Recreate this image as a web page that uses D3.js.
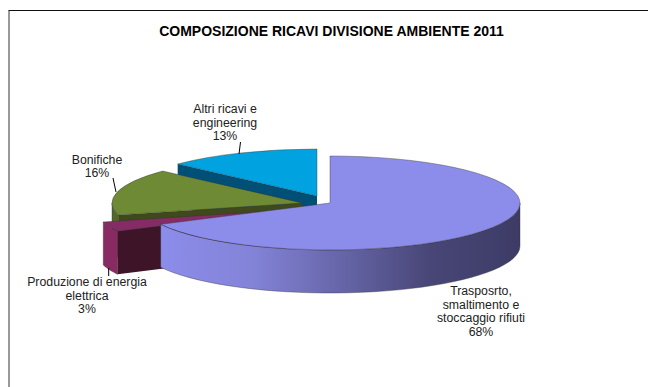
<!DOCTYPE html>
<html>
<head>
<meta charset="utf-8">
<script src="https://cdn.jsdelivr.net/npm/d3@7"></script>
<style>
  html, body { margin: 0; padding: 0; background: #fff; }
  svg { display: block; }
  text { font-family: "Liberation Sans", Arial, sans-serif; fill: #222; }
</style>
</head>
<body>
<svg id="chart" width="648" height="387"></svg>
<script>
const title = "COMPOSIZIONE RICAVI DIVISIONE AMBIENTE 2011";
const categories = ["Trasposrto, smaltimento e stoccaggio rifiuti", "Produzione di energia elettrica", "Bonifiche", "Altri ricavi e engineering"];
const shares = [67.5, 3.4, 16, 13.1];
const labelLines = [
  ["Trasposrto,", "smaltimento e", "stoccaggio rifiuti", "68%"],
  ["Produzione di energia", "elettrica", "3%"],
  ["Bonifiche", "16%"],
  ["Altri ricavi e", "engineering", "13%"]
];

// layout, one entry per slice
const apex = [[330, 203], [287, 210], [302, 203], [317, 196]];
const topColor = ["#8c8cea", "#852c66", "#6f8a35", "#00a2e0"];
const wallColor = ["url(#wall)", "#8a2a62", "#55682a", "#00709c"];
const cutColor = [null, "#3d1428", "#3e4a1c", "#004f76"];
const labelPos = [[481, 295], [87, 286], [97, 163.5], [225, 113]];
const leaders = [null, [[108.7, 268], [108.7, 276]], [[113, 178], [116, 192]], [[240.5, 142], [239, 154]]];

const rx = 190, ry = 47, depth = 43;

const svg = d3.select("#chart");

const grad = svg.append("defs").append("linearGradient")
  .attr("id", "wall")
  .attr("gradientUnits", "userSpaceOnUse")
  .attr("x1", 163).attr("x2", 520).attr("y1", 0).attr("y2", 0);
grad.append("stop").attr("offset", "0").attr("stop-color", "#8c8cea");
grad.append("stop").attr("offset", "0.25").attr("stop-color", "#8383d8");
grad.append("stop").attr("offset", "0.5").attr("stop-color", "#6665a8");
grad.append("stop").attr("offset", "0.75").attr("stop-color", "#484676");
grad.append("stop").attr("offset", "1").attr("stop-color", "#3d3b66");

// page frame
svg.append("path")
  .attr("d", "M9,387V10.5")
  .attr("fill", "none").attr("stroke", "#777").attr("stroke-width", 1.5);
svg.append("path")
  .attr("d", "M8.5,10.5H648")
  .attr("fill", "none").attr("stroke", "#111").attr("stroke-width", 1);

svg.append("text")
  .attr("x", 331.5).attr("y", 36)
  .attr("text-anchor", "middle")
  .attr("font-size", 14).attr("font-weight", "bold")
  .style("fill", "#000")
  .text(title);

const pie = d3.pie().sort(null).startAngle(0).endAngle(2 * Math.PI);
const slices = pie(shares);

const arc = d3.arc().innerRadius(0).outerRadius(rx);
const line = d3.line();

const onRim = (a, i, dy = 0) => [
  apex[i][0] + rx * Math.sin(a),
  apex[i][1] - ry * Math.cos(a) + dy
];

const rim = (a0, a1, i, dy) => {
  const n = 40;
  return d3.range(n + 1).map(k => onRim(a0 + (a1 - a0) * k / n, i, dy));
};

// back to front: blue, green, maroon, purple
[3, 2, 1, 0].forEach(i => {
  const s = slices[i];
  const g = svg.append("g").attr("class", "slice");
  const [ax, ay] = apex[i];

  // the start cut looks towards the viewer on the left hand slices
  if (cutColor[i]) {
    const p = onRim(s.startAngle, i);
    g.append("path")
      .attr("d", line([[ax, ay], p, [p[0], p[1] + depth], [ax, ay + depth]]) + "Z")
      .attr("fill", cutColor[i]);
  }

  // outer wall, front half of the rim only
  const w0 = Math.max(s.startAngle, Math.PI / 2);
  const w1 = Math.min(s.endAngle, 3 * Math.PI / 2);
  if (w1 > w0) {
    g.append("path")
      .attr("d", line(rim(w0, w1, i, 0).concat(rim(w1, w0, i, depth))) + "Z")
      .attr("fill", wallColor[i])
      .attr("stroke", "#333").attr("stroke-width", 0.4);
  }

  // top
  g.append("path")
    .attr("transform", `translate(${ax},${ay}) scale(1,${ry / rx})`)
    .attr("d", arc(s))
    .attr("fill", topColor[i])
    .attr("stroke", "#333").attr("stroke-width", 0.4)
    .attr("vector-effect", "non-scaling-stroke");
});

leaders.forEach(l => {
  if (!l) return;
  svg.append("path").attr("d", line(l)).attr("stroke", "#000").attr("fill", "none");
});

labelLines.forEach((lines, i) => {
  const t = svg.append("text")
    .attr("aria-label", categories[i])
    .attr("text-anchor", "middle")
    .attr("font-size", 12.3);
  lines.forEach((d, k) => {
    t.append("tspan")
      .attr("x", labelPos[i][0])
      .attr("y", labelPos[i][1] + k * 13.7)
      .text(d);
  });
});
</script>
</body>
</html>
